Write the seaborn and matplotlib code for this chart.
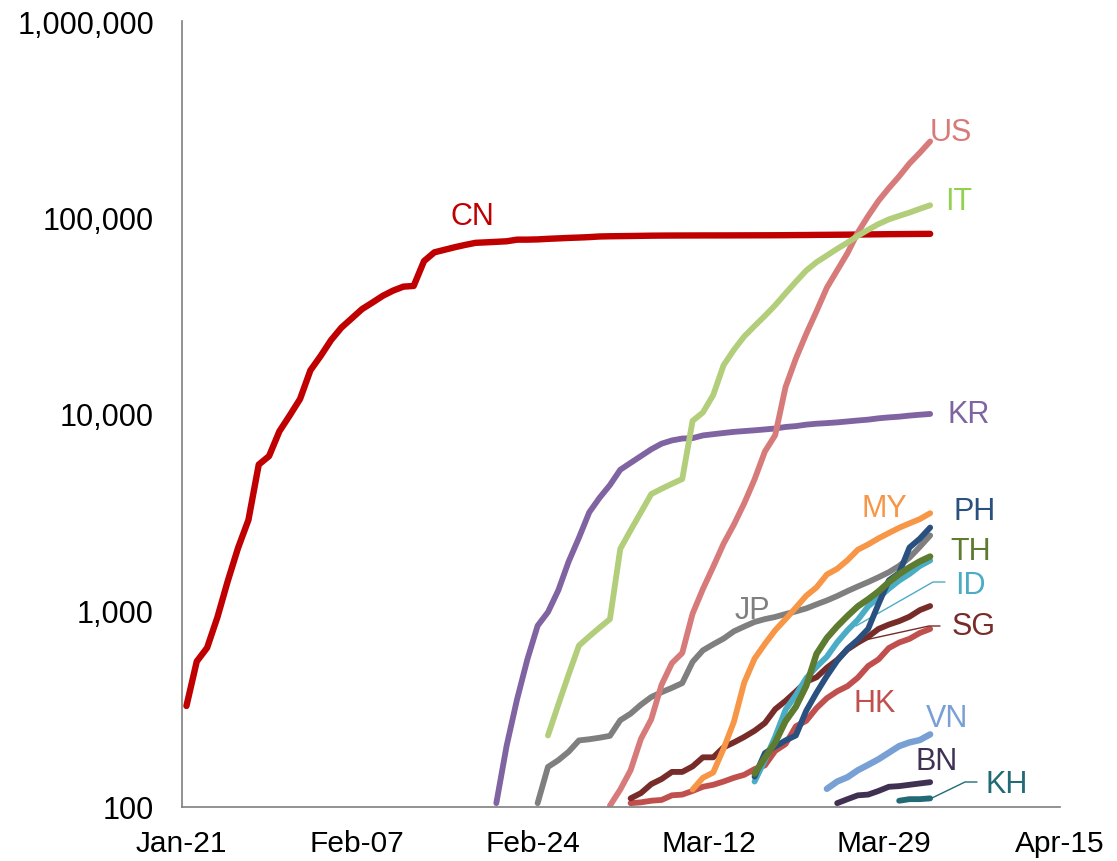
import pandas as pd
import seaborn as sns
import matplotlib.pyplot as plt
from matplotlib.ticker import NullLocator

sns.set_style('white')
plt.rcParams['font.family'] = ['Liberation Sans', 'DejaVu Sans']

# cumulative confirmed cases, one value per day from the start date
cn_start = '2020-01-21'
cn = [325, 548, 643, 920, 1406, 2075, 2877, 5509, 6087, 8141, 9802,
      11891, 16630, 19716, 23707, 27440, 30587, 34110, 36814, 39829, 42354,
      44386, 44759, 59895, 66358, 68413, 70513, 72434, 74211, 74619, 75077,
      75550, 77001, 77022, 77241, 77754, 78166, 78600, 78928, 79356,
      79932, 80136, 80261, 80386, 80537, 80690, 80770, 80823, 80860, 80887,
      80921, 80932, 80945, 80977, 81003, 81033, 81058, 81102, 81156, 81250,
      81305, 81435, 81498, 81591, 81661, 81782, 81897, 81999, 82122, 82198, 82279,
      82361, 82432]

kr_start = '2020-02-20'
kr = [104, 204, 350, 560, 833, 977, 1261, 1766, 2337, 3150,
      3736, 4335, 5186, 5621, 6088, 6593, 7041, 7314, 7478, 7513,
      7755, 7869, 7979, 8086, 8162, 8236, 8320, 8413, 8565, 8652,
      8799, 8897, 8961, 9037, 9137, 9241, 9332, 9478, 9583, 9661, 9786,
      9887, 9976]

it_start = '2020-02-25'
it = [230, 330, 470, 660, 735,
      815, 900, 2050, 2550, 3150, 3900, 4150, 4400, 4650, 9200,
      10150, 12460, 17660, 21157, 24747, 27980, 31506, 35713, 41035, 47021,
      53578, 59138, 63927, 69176, 74386, 80589, 86498, 92472, 97689, 101739, 105792,
      110574, 115242]

us_start = '2020-03-02'
us = [101, 122, 153, 221, 278, 417, 537, 605, 959,
      1281, 1663, 2179, 2726, 3499, 4632, 6421, 7783, 13677, 19100,
      25489, 33272, 43847, 53740, 65778, 83836, 101657, 121465, 140909, 161831, 188172,
      213242, 243622]

jp_start = '2020-02-24'
jp = [104, 159, 172, 190, 217, 220,
      224, 229, 275, 297, 330, 361, 382, 402, 425, 545,
      624, 670, 716, 780, 825, 870, 900, 923, 955, 985,
      1020, 1070, 1120, 1180, 1250, 1320, 1390, 1470, 1560, 1680, 1850,
      2100, 2400]

sg_start = '2020-03-04'
sg = [110, 117, 130, 138, 150, 150, 160,
      178, 178, 200, 212, 226, 243, 266, 313, 345, 385,
      432, 455, 509, 558, 631, 683, 732, 802, 844, 879, 926,
      1000, 1049]

hk_start = '2020-03-04'
hk = [104, 105, 107, 108, 114, 115, 120,
      126, 129, 134, 140, 145, 155, 162, 192, 208, 256,
      273, 317, 356, 386, 410, 453, 519, 561, 641, 684, 714,
      765, 802]

my_start = '2020-03-10'
my = [122, 140, 149, 197, 270, 428, 566, 673, 790, 900, 1030,
      1183, 1306, 1518, 1624, 1796, 2031, 2161, 2320, 2470, 2626, 2766,
      2908, 3116]

th_start = '2020-03-16'
th = [147, 177, 212, 272, 322, 411, 599, 721, 827, 934, 1045, 1136,
      1245, 1388, 1524, 1651, 1771, 1875]

id_start = '2020-03-16'
id_ = [134, 172, 227, 311, 369, 450, 514, 579, 686, 790, 893, 1046,
       1155, 1285, 1414, 1528, 1677, 1790]

ph_start = '2020-03-16'
ph = [142, 187, 202, 217, 230, 307, 380, 462, 552, 636, 707, 803,
      1075, 1418, 1546, 2084, 2311, 2633]

vn_start = '2020-03-23'
vn = [123, 134, 141, 153, 163, 174, 188, 203, 212, 218, 233]

bn_start = '2020-03-24'
bn = [104, 109, 114, 115, 120, 126, 127, 129, 131, 133]

kh_start = '2020-03-30'
kh = [107, 109, 109, 110]

# name, start, values, line colour, label colour, line width (drawing order)
series = [
    ('CN', cn_start, cn, '#C00000', '#C00000', 4.6),
    ('KR', kr_start, kr, '#8064A2', '#8064A2', 4.2),
    ('JP', jp_start, jp, '#7F7F7F', '#7F7F7F', 4.2),
    ('US', us_start, us, '#D77B7A', '#D77B7A', 4.2),
    ('IT', it_start, it, '#B2CE7A', '#92D050', 4.2),
    ('HK', hk_start, hk, '#C0504D', '#C0504D', 4.2),
    ('SG', sg_start, sg, '#772C2A', '#772C2A', 4.2),
    ('MY', my_start, my, '#F79646', '#F79646', 4.2),
    ('VN', vn_start, vn, '#78A0D4', '#78A0D4', 4.6),
    ('BN', bn_start, bn, '#403152', '#403152', 4.2),
    ('KH', kh_start, kh, '#226A75', '#226A75', 4.2),
    ('ID', id_start, id_, '#4BACC6', '#4BACC6', 4.2),
    ('PH', ph_start, ph, '#2A5080', '#2A5080', 4.2),
    ('TH', th_start, th, '#5E7C30', '#5E7C30', 4.6),
]

# label anchors (pixel position of left edge / vertical centre in the reference)
label_px = {
    'CN': (451, 217), 'US': (930, 133), 'IT': (945, 202), 'KR': (948, 415),
    'MY': (862, 509), 'PH': (953, 512), 'TH': (950, 552), 'ID': (955, 586),
    'SG': (952, 627), 'HK': (854, 704), 'VN': (926, 719), 'BN': (915, 762),
    'KH': (986, 785), 'JP': (735, 611),
}
leaders = {
    'ID': [(945, 583), (933, 583), (856, 627)],
    'SG': [(940, 627), (929, 627), (865, 641)],
    'KH': [(977, 783), (965, 783), (932, 799)],
}


def fx(x):
    return (x - 181.7) / 878.0


def fy(y):
    return (807.5 - y) / 785.5


fig = plt.figure(figsize=(11.17, 8.62), dpi=100)
ax = fig.add_axes([181.7 / 1117, (862 - 807.5) / 862, 878.0 / 1117, 785.5 / 862])

frames = []
for name, start, vals, color, lcolor, lw in series:
    # points sit around mid-day in the reference
    dates = pd.date_range(start, periods=len(vals), freq='D') + pd.Timedelta(hours=11)
    frames.append(pd.DataFrame({'date': dates, 'cases': vals, 'country': name}))
df = pd.concat(frames, ignore_index=True)

for name, start, vals, color, lcolor, lw in series:
    sns.lineplot(data=df[df['country'] == name], x='date', y='cases', ax=ax,
                 color=color, linewidth=lw, estimator=None, legend=False,
                 solid_capstyle='round', solid_joinstyle='round')
    px, py = label_px[name]
    ax.text(fx(px), fy(py), name, transform=ax.transAxes, color=lcolor,
            fontsize=22, ha='left', va='center')
    if name in leaders:
        pts = leaders[name]
        ax.plot([fx(p[0]) for p in pts], [fy(p[1]) for p in pts],
                transform=ax.transAxes, color=color, linewidth=1.0, clip_on=False)

ax.set_yscale('log')
ax.set_ylim(100, 1_000_000)
ax.set_xlim(pd.Timestamp('2020-01-21'), pd.Timestamp('2020-04-15'))

xticks = pd.date_range('2020-01-21', periods=6, freq='17D')
ax.set_xticks(xticks)
ax.set_xticklabels([t.strftime('%b-%d') for t in xticks])
yticks = [100, 1000, 10000, 100000, 1000000]
ax.set_yticks(yticks)
ax.set_yticklabels([f'{v:,}' for v in yticks])
ax.yaxis.set_minor_locator(NullLocator())
ax.xaxis.set_minor_locator(NullLocator())

ax.tick_params(axis='y', length=0, pad=20, labelsize=22, labelcolor='black')
ax.tick_params(axis='x', direction='in', length=8, width=1, color='#7F7F7F',
               pad=16, labelsize=21.5, labelcolor='black')
ax.set_xlabel('')
ax.set_ylabel('')
ax.grid(False)
for side in ['top', 'right']:
    ax.spines[side].set_visible(False)
for side in ['left', 'bottom']:
    ax.spines[side].set_color('#7F7F7F')
    ax.spines[side].set_linewidth(1.2)

fig.savefig('out.png', dpi=100)
